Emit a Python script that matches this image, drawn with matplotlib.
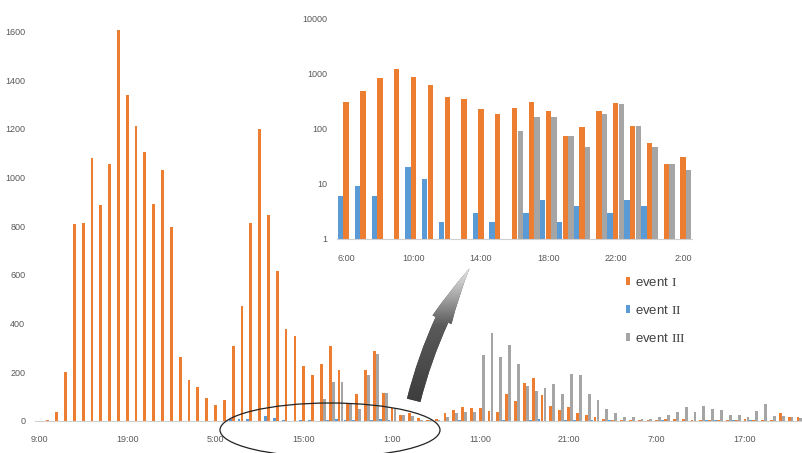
import numpy as np
import matplotlib
matplotlib.use('Agg')
from matplotlib import pyplot as plt
from matplotlib.patches import FancyArrowPatch, Ellipse
from matplotlib.colors import LinearSegmentedColormap

plt.rcParams['font.family'] = ['Liberation Sans', 'DejaVu Sans']
plt.rcParams['mathtext.fontset'] = 'custom'
plt.rcParams['mathtext.rm'] = 'Liberation Serif'

# hourly counts, starting at 9:00 on day one
hour_labels = ["9:00", "19:00", "5:00", "15:00", "1:00", "11:00", "21:00", "7:00", "17:00"]

event1 = [0, 3, 34, 200, 808, 813, 1082, 887, 1054, 1605,
          1339, 1213, 1104, 893, 1033, 797, 261, 168, 137, 92,
          64, 85, 306, 472, 813, 1200, 847, 615, 378, 347,
          226, 186, 235, 306, 207, 74, 108, 207, 286, 112,
          54, 23, 30, 10, 4, 7, 33, 44, 55, 52,
          51, 41, 37, 110, 79, 155, 174, 105, 59, 45,
          55, 33, 25, 16, 5, 3, 2, 2, 3, 2,
          3, 5, 6, 5, 2, 3, 2, 2, 3, 3,
          5, 2, 2, 2, 33, 16, 14]
event2 = [0, 0, 0, 0, 0, 0, 0, 0, 0, 0,
          0, 0, 0, 0, 0, 0, 0, 0, 0, 0,
          0, 0, 6, 9, 6, 0, 20, 12, 2, 0,
          3, 2, 0, 3, 5, 2, 4, 0, 3, 5,
          4, 0, 0, 0, 0, 0, 0, 0, 3, 0,
          0, 0, 0, 2, 0, 0, 2, 5, 0, 0,
          3, 3, 0, 2, 0, 3, 0, 0, 0, 0,
          0, 2, 0, 0, 0, 0, 3, 3, 0, 2,
          0, 4, 0, 0, 0, 0, 0]
event3 = [0, 0, 0, 0, 0, 0, 0, 0, 0, 0,
          0, 0, 0, 0, 0, 0, 0, 0, 0, 0,
          0, 0, 0, 0, 0, 0, 0, 0, 0, 0,
          0, 0, 90, 161, 161, 74, 47, 186, 274, 112,
          47, 23, 18, 4, 2, 3, 14, 30, 36, 36,
          270, 359, 261, 311, 235, 143, 123, 135, 151, 108,
          192, 189, 108, 85, 50, 33, 14, 16, 5, 5,
          16, 22, 36, 55, 36, 60, 47, 44, 22, 22,
          14, 41, 69, 19, 20, 14, 10]

# zoomed window, 6:00 to 2:00 on a log scale
zoom_labels = ["6:00", "10:00", "14:00", "18:00", "22:00", "2:00"]
zoom_event1 = [306, 472, 813, 1200, 847, 615, 378, 347, 226, 186,
               235, 306, 207, 74, 108, 207, 286, 112, 54, 23, 30]
zoom_event2 = [6, 9, 6, 0, 20, 12, 2, 0, 3, 2,
               0, 3, 5, 2, 4, 0, 3, 5, 4, 0, 0]
zoom_event3 = [0, 0, 0, 0, 0, 0, 0, 0, 0, 0,
               90, 161, 161, 74, 47, 186, 274, 112, 47, 23, 18]

c_orange = '#ED7D31'
c_blue = '#5B9BD5'
c_gray = '#A5A5A5'
txt = '#595959'
W, H = 803, 453

fig = plt.figure(figsize=(W / 100, H / 100), dpi=100)

# main chart
ax = fig.add_axes([35 / W, 32.3 / H, 768 / W, 413.3 / H])
x = np.arange(len(event1))
bw = 0.32
ax.bar(x - 1 / 3, event2, bw, color=c_blue, zorder=2)
ax.bar(x, event1, bw, color=c_orange, zorder=2)
ax.bar(x + 1 / 3, event3, bw, color=c_gray, zorder=2)
ax.set_xlim(-0.45, 86.57)
ax.set_ylim(0, 1700)
ax.set_yticks(range(0, 1601, 200))
ax.set_xticks(range(0, len(event1), 10))
ax.set_xticklabels(hour_labels)
for s in ['top', 'right', 'left']:
    ax.spines[s].set_visible(False)
ax.spines['bottom'].set_color('#d0d0d0')
ax.tick_params(axis='both', length=0, labelsize=6.5, colors=txt)
ax.tick_params(axis='y', pad=7)
ax.tick_params(axis='x', pad=10)

# inset with log scale
ax2 = fig.add_axes([337.2 / W, 214 / H, 354.9 / W, 220.7 / H])
xi = np.arange(len(zoom_event1))
bw2 = 0.32
h2 = ax2.bar(xi - 1 / 3, zoom_event2, bw2, color=c_blue, log=True)
h1 = ax2.bar(xi, zoom_event1, bw2, color=c_orange, log=True)
h3 = ax2.bar(xi + 1 / 3, zoom_event3, bw2, color=c_gray, log=True)
ax2.set_yscale('log')
ax2.set_ylim(1, 10000)
ax2.set_xlim(-0.53, 20.53)
ax2.set_yticks([1, 10, 100, 1000, 10000])
ax2.set_yticklabels(['1', '10', '100', '1000', '10000'])
ax2.minorticks_off()
ax2.set_xticks(range(0, len(zoom_event1), 4))
ax2.set_xticklabels(zoom_labels)
for s in ['top', 'right', 'left']:
    ax2.spines[s].set_visible(False)
ax2.spines['bottom'].set_color('#d0d0d0')
ax2.tick_params(axis='both', length=0, labelsize=6.5, colors=txt)
ax2.tick_params(axis='y', pad=7)
ax2.tick_params(axis='x', pad=11)

fig.legend([h1, h2, h3], [r'event $\mathrm{I}$', r'event $\mathrm{II}$', r'event $\mathrm{III}$'],
           loc='upper left', bbox_to_anchor=(626 / W, 1 - 276 / H),
           frameon=False, fontsize=9.5, labelcolor='#404040',
           handlelength=0.32, handleheight=0.55, handletextpad=0.4,
           labelspacing=1.12, borderpad=0, borderaxespad=0)

# overlay in pixel coordinates for the ellipse and the arrow
ov = fig.add_axes([0, 0, 1, 1])
ov.set_xlim(0, W)
ov.set_ylim(H, 0)
ov.axis('off')
ov.patch.set_alpha(0)

ov.add_patch(Ellipse((330, 430), 220, 54, fill=False, ec='#222222', lw=0.9))

arrow = FancyArrowPatch((413, 403), (471, 266),
                        connectionstyle='arc3,rad=-0.08',
                        arrowstyle='simple,head_length=42,head_width=15,tail_width=10',
                        mutation_scale=1, fc='#4a4a4a', ec='none', zorder=2)
ov.add_patch(arrow)
shade = LinearSegmentedColormap.from_list(
    'shade', [(0, '#f2f2f2'), (0.18, '#b5b5b5'), (0.42, '#5a5a5a'), (1, '#3a3a3a')])
grad = np.linspace(0, 1, 256).reshape(-1, 1)
im = ov.imshow(grad, extent=(395, 490, 410, 264), cmap=shade, aspect='auto', zorder=3)
im.set_clip_path(arrow)
ov.set_xlim(0, W)
ov.set_ylim(H, 0)

fig.savefig('out.png', dpi=100)
